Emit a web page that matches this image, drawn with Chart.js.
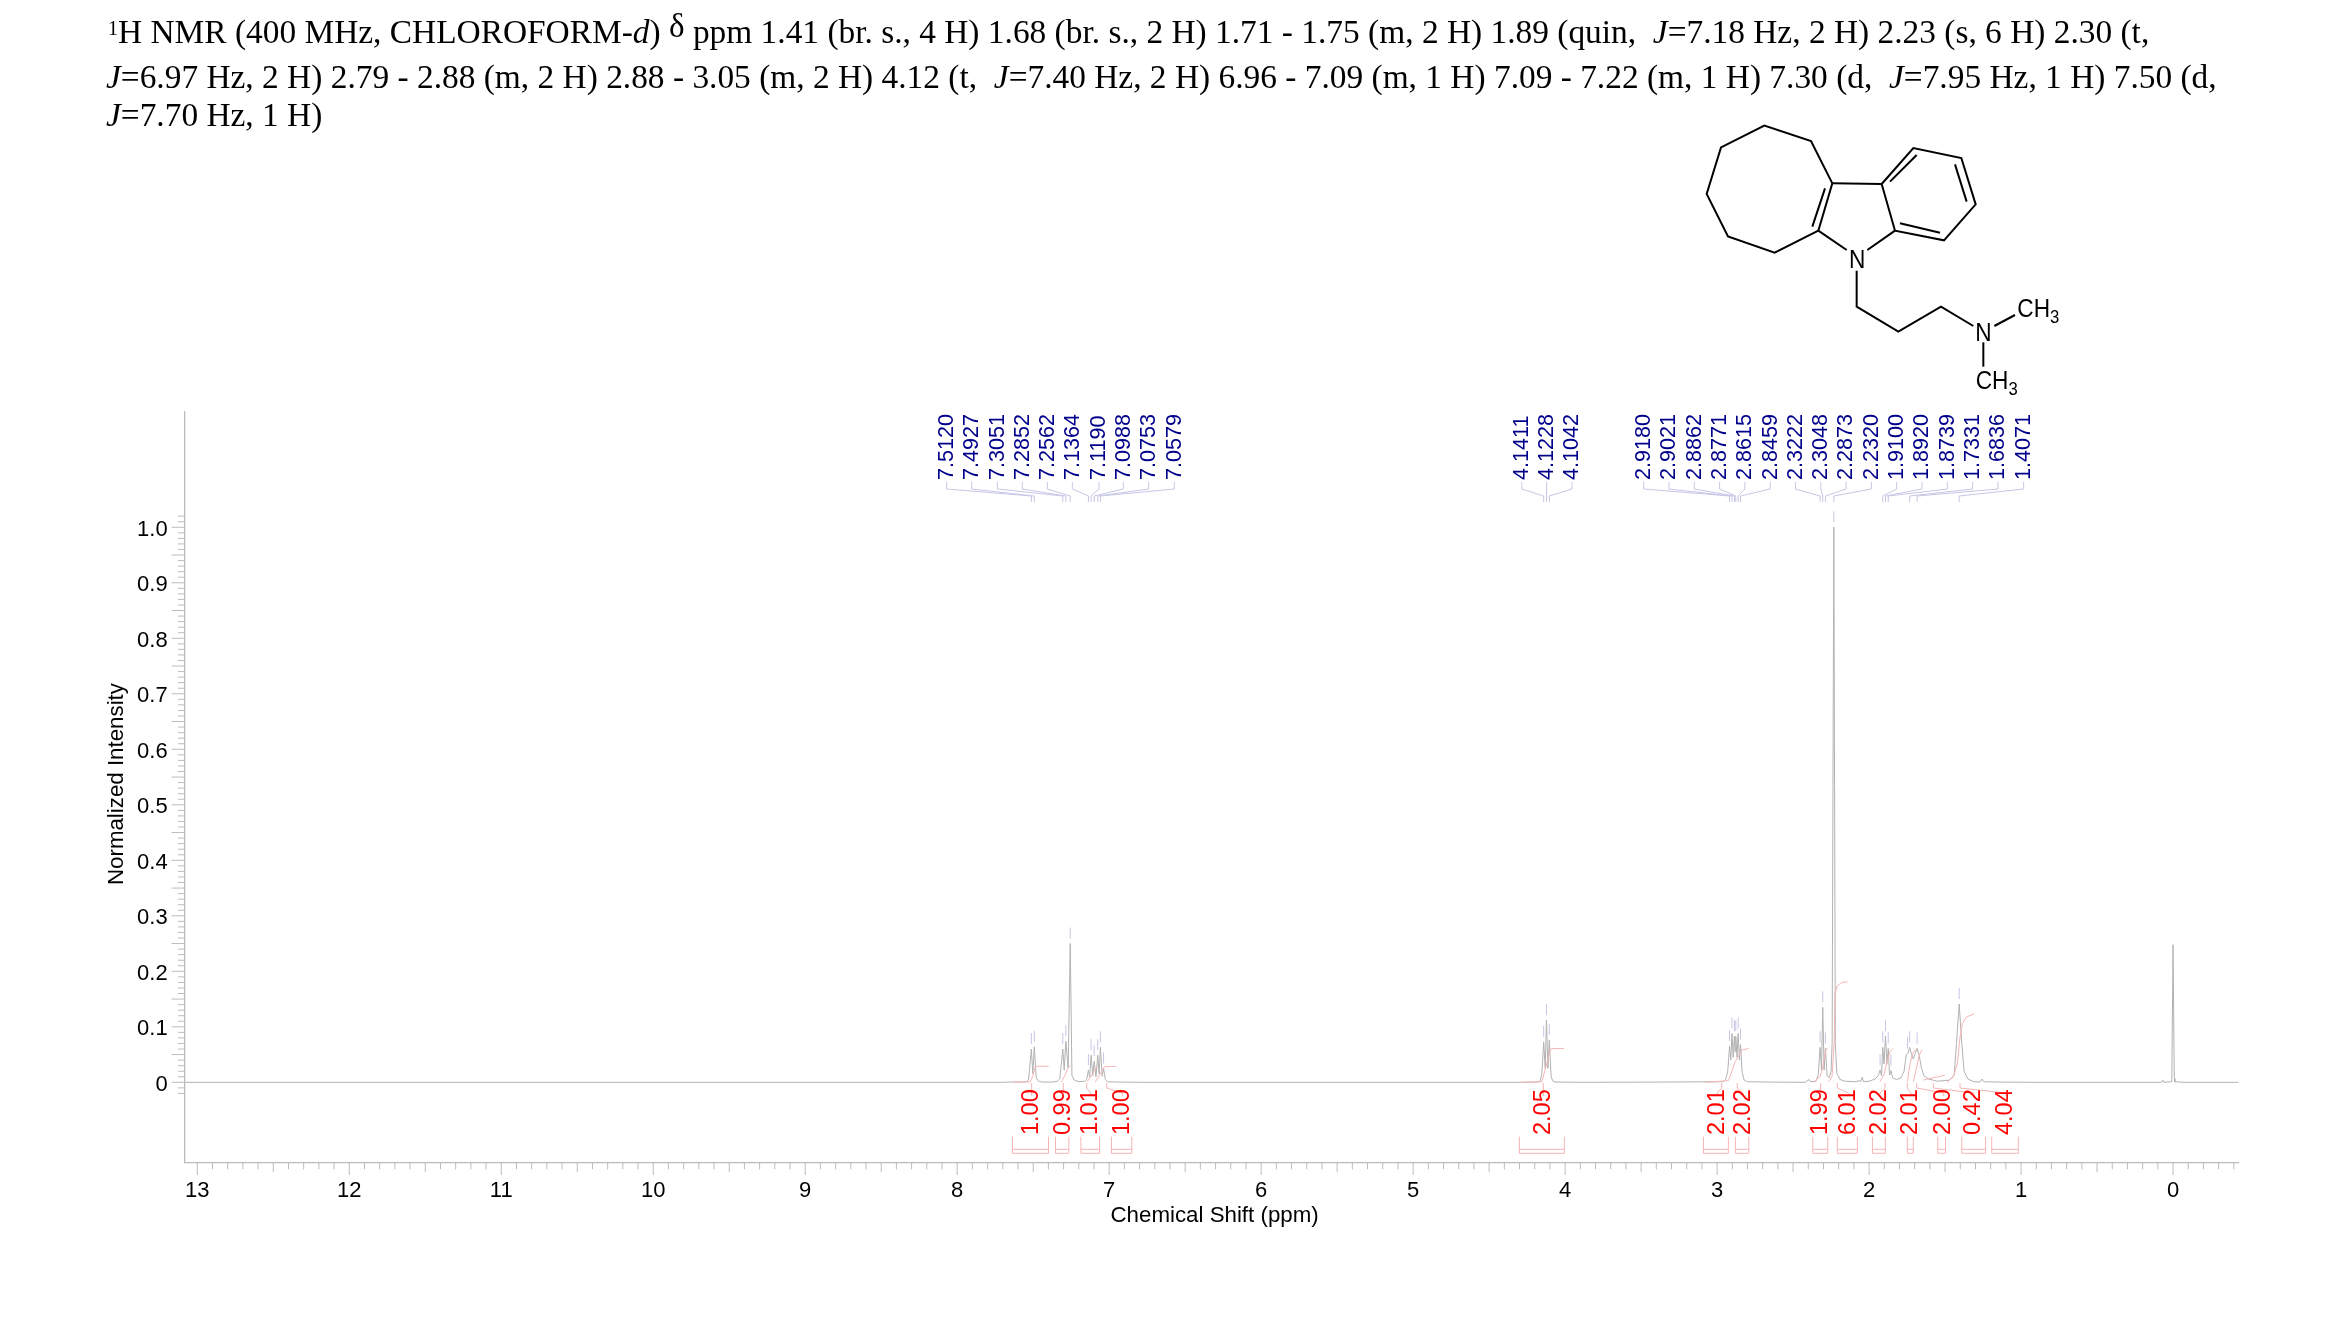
<!DOCTYPE html>
<html>
<head>
<meta charset="utf-8">
<title>1H NMR</title>
<script src="https://cdn.jsdelivr.net/npm/chart.js@4/dist/chart.umd.min.js"></script>
<style>
html, body { margin: 0; padding: 0; background: #fff; }
#page { position: relative; width: 2339px; height: 1327px; overflow: hidden; }
#nmr { position: absolute; left: 0; top: 0; }
.hd { position: absolute; white-space: pre; font: 33.4px "Liberation Serif", serif; color: #000; }
.hd sup { font-size: 20px; vertical-align: 8px; line-height: 0; }
.hd .dl { font-size: 33px; position: relative; top: -6px; }
#mol { position: absolute; left: 1650px; top: 110px; }
</style>
</head>
<body>
<div id="page">
<canvas id="nmr" width="2339" height="1327"></canvas>
<div class="hd" style="left:108px;top:13px"><sup>1</sup>H NMR (400 MHz, CHLOROFORM-<i>d</i>) <span class="dl">δ</span> ppm 1.41 (br. s., 4 H) 1.68 (br. s., 2 H) 1.71 - 1.75 (m, 2 H) 1.89 (quin,  <i>J</i>=7.18 Hz, 2 H) 2.23 (s, 6 H) 2.30 (t,</div>
<div class="hd" style="left:106px;top:58px"><i>J</i>=6.97 Hz, 2 H) 2.79 - 2.88 (m, 2 H) 2.88 - 3.05 (m, 2 H) 4.12 (t,  <i>J</i>=7.40 Hz, 2 H) 6.96 - 7.09 (m, 1 H) 7.09 - 7.22 (m, 1 H) 7.30 (d,  <i>J</i>=7.95 Hz, 1 H) 7.50 (d,</div>
<div class="hd" style="left:106px;top:96px"><i>J</i>=7.70 Hz, 1 H)</div>
<svg id="mol" width="450" height="300" viewBox="0 0 1350 900">
  <g fill="none" stroke="#000" stroke-width="6">
    <polyline points="547,220 483,93 343,47 213,112 170,252 234,379 374,428 505,362"/>
    <line x1="547" y1="220" x2="505" y2="362"/>
    <line x1="525" y1="235" x2="487" y2="350"/>
    <polyline points="505,362 590,420"/>
    <polyline points="735,362 652,420"/>
    <line x1="547" y1="220" x2="695" y2="222"/>
    <polyline points="695,222 790,114 934,144 977,283 882,391 735,362 695,222"/>
    <line x1="720" y1="215" x2="800" y2="135"/>
    <line x1="915" y1="163" x2="950" y2="275"/>
    <line x1="750" y1="340" x2="870" y2="368"/>
    <polyline points="620,482 620,590 745,665 873,590 970,648"/>
    <line x1="1033" y1="648" x2="1095" y2="615"/>
    <line x1="1000" y1="697" x2="1000" y2="770"/>
  </g>
  <g font-family="Liberation Sans" font-size="68" fill="#000">
    <text transform="translate(597,475) scale(1,1.14)">N</text>
    <text transform="translate(976,692) scale(1,1.14)">N</text>
    <text transform="translate(1102,622) scale(1,1.14)">CH<tspan font-size="50" dy="15">3</tspan></text>
    <text transform="translate(977,838) scale(1,1.14)">CH<tspan font-size="50" dy="15">3</tspan></text>
  </g>
</svg>
</div>
<script>
// axis labels, every tenth of a unit carries text
const xTickLabels = [13,12,11,10,9,8,7,6,5,4,3,2,1,0]
const yTickLabels = ['0','0.1','0.2','0.3','0.4','0.5','0.6','0.7','0.8','0.9','1.0']

// spectrum
const spectrumPpm = [13.0855,7.7,7.65,7.56,7.54,7.53,7.512,7.5025,7.4927,7.48,7.465,7.44,7.37,7.34,7.325,7.3051,7.296,7.2852,7.27,7.2562,7.245,7.23,7.2,7.16,7.148,7.1364,7.128,7.119,7.108,7.0988,7.087,7.0753,7.066,7.0579,7.046,7.0368,7.025,7.01,6.95,6.8,
  4.3,4.18,4.165,4.153,4.1411,4.131,4.1228,4.113,4.1042,4.092,4.08,4.06,3.9,3.5,2.96,2.945,2.93,2.918,2.91,2.9021,2.894,2.8862,2.882,2.8771,2.869,2.8615,2.853,2.8459,2.835,2.822,2.8,2.6,2.42,2.395,2.385,
  2.35,2.335,2.3222,2.313,2.3048,2.296,2.2873,2.276,2.262,2.25,2.243,2.232,2.222,2.212,2.19,2.16,2.09,2.065,2.055,2.046,2.035,2,1.96,1.94,1.9276,1.918,1.91,1.902,1.892,1.883,1.8739,1.865,1.856,1.845,1.82,1.79,1.77,1.755,1.745,1.7331,1.72,1.71,1.696,1.6836,1.67,1.655,1.64,1.61,1.55,1.47,1.44,1.425,1.4071,1.39,1.375,1.35,1.31,1.27,1.256,1.245,1.1,0.9,
  0.075,0.068,0.06,0.012,0.008,0,-0.008,-0.012,-0.08,-0.432]
const spectrumInt = [0,0,0.0005,0.0005,0.001,0.006,0.06,0.016,0.064,0.008,0.002,0.0005,0.0005,0.002,0.006,0.06,0.022,0.074,0.026,0.25,0.012,0.004,0.001,0.002,0.005,0.022,0.01,0.049,0.012,0.038,0.01,0.049,0.015,0.063,0.011,0.025,0.005,0.001,0.0005,0,
  0,0.0005,0.002,0.015,0.073,0.025,0.112,0.025,0.076,0.01,0.002,0.0005,0,0.0003,0.001,0.004,0.02,0.065,0.04,0.088,0.045,0.083,0.055,0.083,0.045,0.088,0.04,0.068,0.018,0.004,0.001,0.0003,0,0.005,0.001,
  0.002,0.012,0.063,0.022,0.135,0.022,0.061,0.012,0.008,0.02,0.07,1,0.07,0.016,0.005,0.002,0.001,0.003,0.001,0.009,0.001,0.002,0.006,0.012,0.022,0.012,0.063,0.033,0.083,0.033,0.061,0.013,0.021,0.008,0.005,0.008,0.02,0.05,0.052,0.063,0.05,0.042,0.052,0.061,0.048,0.025,0.012,0.006,0.002,0.004,0.013,0.07,0.141,0.07,0.02,0.006,0.001,0.0005,0.006,0.001,0.0003,0,
  0,0.004,0,0.001,0.007,0.248,0.007,0.001,0,0]

// picked peaks: shift text, shift, height of the peak under the mark
const pickLabels = ['7.5120','7.4927','7.3051','7.2852','7.2562','7.1364','7.1190','7.0988','7.0753','7.0579','4.1411','4.1228','4.1042','2.9180','2.9021','2.8862','2.8771','2.8615','2.8459','2.3222','2.3048','2.2873','2.2320','1.9100','1.8920','1.8739','1.7331','1.6836','1.4071']
const pickHeights = [0.06,0.064,0.06,0.074,0.25,0.022,0.049,0.038,0.049,0.063,0.073,0.112,0.076,0.065,0.088,0.083,0.083,0.088,0.068,0.063,0.135,0.061,1,0.063,0.083,0.061,0.063,0.061,0.141]
// marks that have no label in the list
const extraPickPpm = [7.0368,1.9276,1.856,1.747]
const extraPickHeights = [0.025,0.022,0.021,0.052]

// integrals: value, range in ppm
const integralLabels = ['1.00','0.99','1.01','1.00','2.05','2.01','2.02','1.99','6.01','2.02','2.01','2.00','0.42','4.04']
const integralFrom = [7.636,7.353,7.186,6.985,4.301,3.09,2.88,2.37,2.209,1.978,1.748,1.548,1.39,1.193]
const integralTo = [7.399,7.265,7.064,6.851,4.005,2.926,2.791,2.272,2.077,1.893,1.709,1.497,1.234,1.018]
// running integral curves, [ppm list, height list]
const integralCurves = [
  [[7.629,7.519,7.504,7.486,7.464,7.398],[0,0.001,0.01,0.028,0.029,0.029]],
  [[7.315,7.289,7.273,7.256],[0.001,0.013,0.025,0.03]],
  [[7.146,7.113,7.091,7.076],[0.001,0.013,0.025,0.028]],
  [[7.091,7.059,7.032,6.953],[0.001,0.015,0.028,0.029]],
  [[4.296,4.154,4.132,4.11,4.095,4.066,4.005],[0,0.001,0.022,0.046,0.06,0.061,0.061]],
  [[3.079,2.926,2.904,2.882,2.86,2.838,2.792],[0,0.003,0.019,0.037,0.046,0.058,0.061]],
  [[2.366,2.322,2.305,2.283,2.272],[0,0.01,0.028,0.059,0.061]],
  [[2.268,2.244,2.23,2.224,2.209,2.18,2.141],[0.001,0.01,0.07,0.16,0.174,0.18,0.181]],
  [[1.928,1.899,1.88,1.862,1.844],[0.001,0.016,0.04,0.055,0.061]],
  [[1.748,1.73,1.713,1.693],[0.001,0.034,0.052,0.059]],
  [[1.708,1.687,1.669,1.652],[0.001,0.028,0.049,0.059]],
  [[1.643,1.599,1.544,1.5],[0.004,0.007,0.01,0.013]],
  [[1.489,1.445,1.419,1.401,1.386,1.358,1.309],[0,0.01,0.034,0.082,0.106,0.118,0.123]]
]

// layout of the text rows, in page pixels
const pickLabelX = [946.7,971.7,997.3,1022.3,1047.3,1072.3,1099,1123.3,1148.7,1174.3,1521.8,1546.7,1572,1643.7,1669,1694.3,1719.6,1744.9,1770.2,1795.5,1820.8,1846.1,1871.4,1896.7,1922,1947.3,1972.6,1997.9,2023.7]
const integralLabelX = [1031.7,1063.3,1090.7,1122.3,1543.3,1717.3,1743.3,1820.7,1848.3,1880,1911,1943.3,1974,2006]
const integralFootX = [1031.7,1063.3,1086.7,1106.7,1543.3,1721.7,1737.3,1820.7,1837.3,1885,1907.3,1916.7,1933.3,1960]

const gray = '#bcbcbc'
const pickLine = '#c6c6e6'
const intLine = '#f6b4b4'

const frame = {
  id: 'frame',
  beforeDraw(chart) {
    // y labels sit a little under their ticks in the original
    chart.scales.y.getLabelItems().forEach(it => { it.options.translation[1] += 2.5 })
  },
  afterDatasetsDraw(chart) {
    const ctx = chart.ctx, x = chart.scales.x, y = chart.scales.y
    ctx.save()

    // tick marks, three lengths on x and two on y
    ctx.strokeStyle = gray
    ctx.lineWidth = 1
    ctx.beginPath()
    x.ticks.forEach(t => {
      const n = Math.round(t.value * 10)
      const len = n % 10 == 0 ? 12.7 : n % 5 == 0 ? 10 : 7
      const px = x.getPixelForValue(t.value)
      ctx.moveTo(px, x.top); ctx.lineTo(px, x.top + len)
    })
    y.ticks.forEach(t => {
      const n = Math.round(t.value * 100)
      const len = n % 5 == 0 ? 12.7 : 6.3
      const py = y.getPixelForValue(t.value)
      ctx.moveTo(y.right, py); ctx.lineTo(y.right - len, py)
    })
    ctx.stroke()

    // peak picking: leader from the label to the shift, dash over the peak
    ctx.strokeStyle = pickLine
    ctx.beginPath()
    pickLabels.forEach((s, i) => {
      const px = x.getPixelForValue(parseFloat(s))
      ctx.moveTo(pickLabelX[i], 482); ctx.lineTo(pickLabelX[i], 489)
      ctx.lineTo(px, 496); ctx.lineTo(px, 502)
      const top = y.getPixelForValue(pickHeights[i])
      ctx.moveTo(px, top - 5); ctx.lineTo(px, top - 16)
    })
    extraPickPpm.forEach((p, i) => {
      const px = x.getPixelForValue(p), top = y.getPixelForValue(extraPickHeights[i])
      ctx.moveTo(px, top - 5); ctx.lineTo(px, top - 16)
    })
    ctx.stroke()

    ctx.fillStyle = '#00008b'
    ctx.font = '21.6px "Liberation Sans"'
    ctx.textBaseline = 'middle'
    ctx.textAlign = 'left'
    pickLabels.forEach((s, i) => {
      ctx.save()
      ctx.translate(pickLabelX[i], 480)
      ctx.rotate(-Math.PI / 2)
      ctx.scale(1, 1.06)
      ctx.fillText(s, 0, 0)
      ctx.restore()
    })

    // integral brackets and their labels
    ctx.strokeStyle = intLine
    ctx.beginPath()
    integralLabels.forEach((s, i) => {
      const a = x.getPixelForValue(integralFrom[i]), b = x.getPixelForValue(integralTo[i])
      ctx.moveTo(a, 1136.7); ctx.lineTo(a, 1153.3); ctx.lineTo(b, 1153.3); ctx.lineTo(b, 1136.7)
      ctx.moveTo(a, 1149.3); ctx.lineTo(b, 1149.3)
      ctx.moveTo(integralFootX[i], 1083); ctx.lineTo(integralFootX[i], 1088)
      ctx.lineTo(integralLabelX[i], 1093); ctx.lineTo(integralLabelX[i], 1096)
    })
    ctx.stroke()

    ctx.fillStyle = '#ff0000'
    ctx.font = '23.5px "Liberation Sans"'
    integralLabels.forEach((s, i) => {
      ctx.save()
      ctx.translate(integralLabelX[i], 1135)
      ctx.rotate(-Math.PI / 2)
      ctx.fillText(s, 0, 0)
      ctx.restore()
    })
    ctx.restore()
  }
}

const datasets = integralCurves.map(c => ({
  data: c[0].map((p, i) => ({ x: p, y: c[1][i] })),
  borderColor: intLine,
  borderWidth: 1,
  pointRadius: 0
}))
datasets.push({
  data: spectrumPpm.map((p, i) => ({ x: p, y: spectrumInt[i] })),
  borderColor: '#b2b2b2',
  borderWidth: 1,
  pointRadius: 0
})

let xTicks = []
for (let n = 130; n >= -4; n--) xTicks.push({ value: n / 10 })
let yTicks = []
for (let n = -2; n <= 102; n++) yTicks.push({ value: n / 100 })

let chart = new Chart(document.querySelector('#nmr'), {
  type: 'line',
  data: { datasets: datasets },
  plugins: [frame],
  options: {
    responsive: false,
    animation: false,
    layout: { padding: { left: 0, top: 412, right: 100.3, bottom: 64.7 } },
    plugins: { legend: { display: false }, tooltip: { enabled: false } },
    scales: {
      x: {
        type: 'linear',
        reverse: true,
        min: -0.432,
        max: 13.0855,
        grid: { drawOnChartArea: false, drawTicks: false },
        border: { color: gray, width: 1.3 },
        afterBuildTicks: s => { s.ticks = xTicks },
        afterFit: s => { s.height = 100 },
        ticks: {
          autoSkip: false,
          maxRotation: 0,
          padding: 15,
          color: '#000',
          font: { family: 'Liberation Sans', size: 22 },
          callback: v => xTickLabels.includes(v) ? String(v) : ''
        },
        title: {
          display: true,
          text: ' Chemical Shift (ppm)',
          color: '#000',
          font: { family: 'Liberation Sans', size: 22.3 },
          padding: { top: 0, bottom: 33 }
        }
      },
      y: {
        min: -0.1441,
        max: 1.2077,
        grid: { drawOnChartArea: false, drawTicks: false },
        border: { color: gray, width: 1.3 },
        afterBuildTicks: s => { s.ticks = yTicks },
        afterFit: s => { s.width = 184.3 },
        ticks: {
          autoSkip: false,
          padding: 16.6,
          color: '#000',
          font: { family: 'Liberation Sans', size: 22 },
          callback: v => {
            const n = Math.round(v * 100)
            return n >= 0 && n % 10 == 0 ? yTickLabels[n / 10] : ''
          }
        },
        title: {
          display: true,
          text: ' Normalized Intensity',
          color: '#000',
          font: { family: 'Liberation Sans', size: 22.3 },
          padding: { top: 103, bottom: 0 }
        }
      }
    }
  }
})
</script>
</body>
</html>
